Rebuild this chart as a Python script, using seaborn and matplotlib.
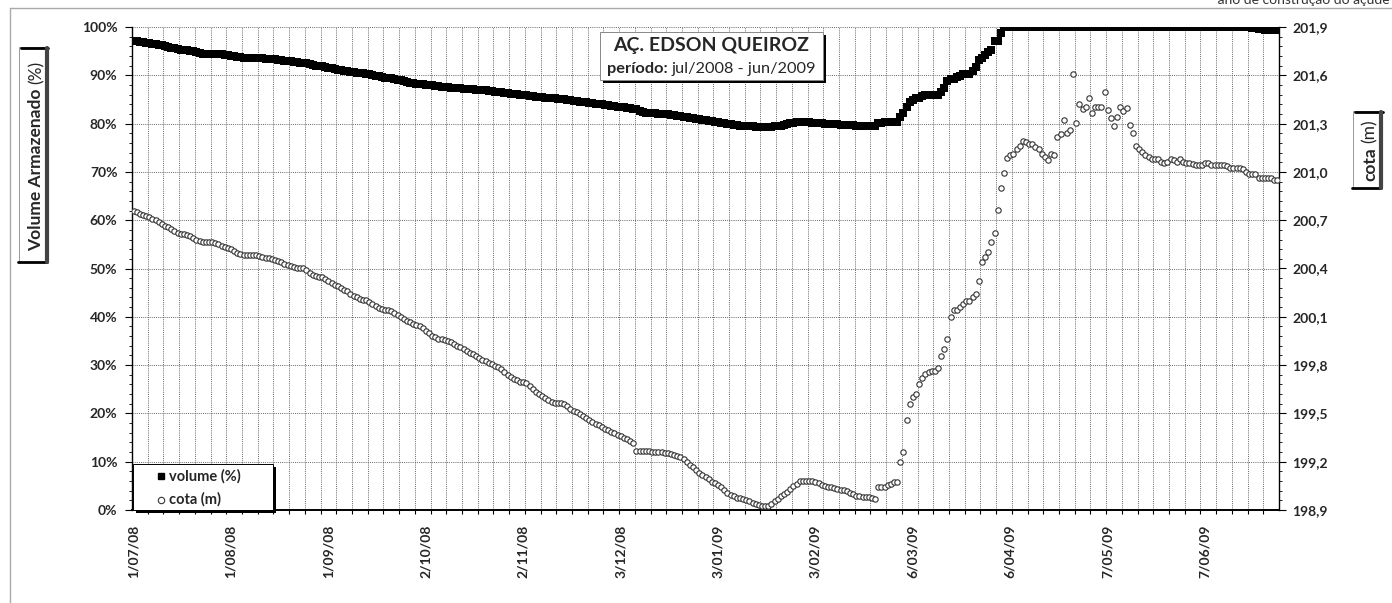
import numpy as np
import pandas as pd
import matplotlib
matplotlib.use("Agg")
import matplotlib.pyplot as plt
import seaborn as sns
from matplotlib.patches import Rectangle
from matplotlib.lines import Line2D
from matplotlib.ticker import MultipleLocator, FixedLocator, NullFormatter, FuncFormatter

# ---------------- data ----------------
period_start = "2008-07-01"
period_end = "2009-06-30"

tick_labels = ["1/07/08", "1/08/08", "1/09/08", "2/10/08", "2/11/08", "3/12/08",
               "3/01/09", "3/02/09", "6/03/09", "6/04/09", "7/05/09", "7/06/09"]

# volume armazenado (%), one value per day
volume_pct = [
    97.0, 97.0, 96.9, 96.8, 96.7, 96.6, 96.5, 96.4, 96.3, 96.2,
    96.0, 95.9, 95.7, 95.6, 95.4, 95.3, 95.2, 95.2, 95.1, 95.1,
    94.9, 94.7, 94.5, 94.5, 94.5, 94.4, 94.4, 94.4, 94.4, 94.3,
    94.2, 94.0, 93.9, 93.8, 93.7, 93.6, 93.6, 93.6, 93.5, 93.5,
    93.5, 93.5, 93.4, 93.4, 93.3, 93.3, 93.2, 93.1, 93.0, 92.9,
    92.9, 92.8, 92.7, 92.6, 92.5, 92.5, 92.4, 92.2, 92.0, 91.9,
    91.9, 91.8, 91.6, 91.5, 91.3, 91.2, 91.1, 90.9, 90.8, 90.7,
    90.6, 90.5, 90.5, 90.4, 90.3, 90.2, 90.1, 89.9, 89.8, 89.6,
    89.5, 89.5, 89.4, 89.3, 89.1, 89.0, 88.8, 88.7, 88.5, 88.4,
    88.2, 88.1, 88.1, 88.0, 88.0, 87.9, 87.8, 87.7, 87.6, 87.6,
    87.5, 87.4, 87.4, 87.3, 87.3, 87.2, 87.2, 87.1, 87.1, 87.0,
    87.0, 86.9, 86.9, 86.8, 86.7, 86.6, 86.6, 86.5, 86.4, 86.3,
    86.2, 86.2, 86.1, 86.0, 86.0, 85.9, 85.8, 85.7, 85.6, 85.5,
    85.5, 85.4, 85.3, 85.2, 85.2, 85.1, 85.0, 85.0, 84.9, 84.8,
    84.7, 84.6, 84.5, 84.5, 84.4, 84.3, 84.2, 84.1, 84.0, 84.0,
    83.9, 83.8, 83.7, 83.6, 83.5, 83.5, 83.4, 83.3, 83.2, 83.1,
    83.0, 82.6, 82.3, 82.2, 82.2, 82.1, 82.1, 82.0, 82.0, 81.9,
    81.9, 81.8, 81.7, 81.6, 81.5, 81.4, 81.3, 81.2, 81.1, 81.0,
    80.9, 80.8, 80.7, 80.6, 80.5, 80.4, 80.3, 80.2, 80.1, 80.0,
    79.9, 79.8, 79.7, 79.6, 79.5, 79.5, 79.4, 79.4, 79.3, 79.3,
    79.3, 79.2, 79.2, 79.3, 79.4, 79.5, 79.6, 79.8, 80.0, 80.1,
    80.2, 80.3, 80.3, 80.3, 80.3, 80.3, 80.2, 80.2, 80.1, 80.1,
    80.0, 80.0, 80.0, 79.9, 79.9, 79.8, 79.8, 79.7, 79.7, 79.7,
    79.6, 79.6, 79.6, 79.6, 79.6, 79.6, 79.6, 80.1, 80.2, 80.3,
    80.4, 80.4, 80.4, 80.4, 81.4, 82.1, 83.5, 84.5, 84.9, 85.2,
    85.2, 85.7, 85.9, 85.9, 85.9, 85.9, 85.9, 86.6, 87.3, 88.8,
    89.2, 89.3, 89.6, 89.9, 90.2, 90.2, 90.2, 90.8, 91.7, 93.2,
    93.6, 94.2, 94.9, 95.2, 97.0, 97.0, 98.7, 99.9, 100.0, 100.0,
    100.0, 100.0, 100.0, 100.0, 100.0, 100.0, 100.0, 100.0, 100.0, 100.0,
    100.0, 100.0, 100.0, 100.0, 100.0, 100.0, 100.0, 100.0, 100.0, 100.0,
    100.0, 100.0, 100.0, 100.0, 100.0, 100.0, 100.0, 100.0, 100.0, 100.0,
    100.0, 100.0, 100.0, 100.0, 100.0, 100.0, 100.0, 100.0, 100.0, 100.0,
    100.0, 100.0, 100.0, 100.0, 100.0, 100.0, 100.0, 100.0, 100.0, 100.0,
    100.0, 100.0, 100.0, 100.0, 100.0, 100.0, 100.0, 100.0, 100.0, 100.0,
    100.0, 100.0, 100.0, 100.0, 100.0, 100.0, 100.0, 100.0, 100.0, 100.0,
    100.0, 100.0, 100.0, 100.0, 100.0, 99.9, 99.8, 99.7, 99.6, 99.5,
    99.4, 99.4, 99.4, 99.4, 99.4,
]

# cota (m), one value per day
cota_m = [
    200.760, 200.748, 200.739, 200.733, 200.724, 200.718, 200.709, 200.700, 200.691, 200.679,
    200.667, 200.658, 200.646, 200.634, 200.622, 200.616, 200.613, 200.610, 200.604, 200.589,
    200.577, 200.568, 200.562, 200.562, 200.562, 200.562, 200.556, 200.550, 200.541, 200.532,
    200.526, 200.520, 200.508, 200.499, 200.490, 200.484, 200.481, 200.481, 200.481, 200.481,
    200.478, 200.472, 200.466, 200.463, 200.457, 200.451, 200.445, 200.439, 200.430, 200.424,
    200.418, 200.412, 200.406, 200.403, 200.400, 200.388, 200.373, 200.361, 200.355, 200.349,
    200.346, 200.334, 200.322, 200.310, 200.298, 200.289, 200.277, 200.268, 200.259, 200.244,
    200.232, 200.220, 200.208, 200.205, 200.205, 200.193, 200.181, 200.169, 200.157, 200.148,
    200.145, 200.142, 200.136, 200.124, 200.109, 200.097, 200.088, 200.076, 200.067, 200.058,
    200.049, 200.043, 200.028, 200.013, 199.998, 199.983, 199.974, 199.965, 199.962, 199.956,
    199.950, 199.941, 199.929, 199.920, 199.911, 199.899, 199.890, 199.878, 199.866, 199.857,
    199.845, 199.833, 199.824, 199.815, 199.806, 199.797, 199.791, 199.773, 199.755, 199.737,
    199.725, 199.716, 199.707, 199.698, 199.692, 199.686, 199.671, 199.653, 199.635, 199.623,
    199.608, 199.593, 199.581, 199.572, 199.566, 199.563, 199.563, 199.560, 199.545, 199.530,
    199.518, 199.506, 199.494, 199.482, 199.470, 199.458, 199.446, 199.437, 199.425, 199.416,
    199.404, 199.395, 199.386, 199.377, 199.368, 199.359, 199.350, 199.338, 199.329, 199.317,
    199.269, 199.266, 199.266, 199.266, 199.266, 199.263, 199.263, 199.260, 199.260, 199.257,
    199.251, 199.245, 199.239, 199.233, 199.227, 199.215, 199.200, 199.182, 199.164, 199.149,
    199.131, 199.119, 199.107, 199.092, 199.077, 199.065, 199.053, 199.041, 199.026, 199.008,
    198.993, 198.984, 198.975, 198.972, 198.966, 198.960, 198.954, 198.945, 198.936, 198.930,
    198.927, 198.924, 198.927, 198.936, 198.954, 198.969, 198.984, 198.999, 199.014, 199.029,
    199.047, 199.062, 199.080, 199.083, 199.083, 199.083, 199.083, 199.077, 199.065, 199.056,
    199.047, 199.044, 199.041, 199.038, 199.032, 199.026, 199.023, 199.017, 199.008, 198.999,
    198.990, 198.984, 198.981, 198.978, 198.978, 198.975, 198.969, 199.041, 199.041, 199.041,
    199.056, 199.062, 199.071, 199.071, 199.200, 199.260, 199.458, 199.557, 199.599, 199.620,
    199.680, 199.719, 199.743, 199.755, 199.764, 199.764, 199.779, 199.857, 199.899, 199.962,
    200.100, 200.142, 200.142, 200.163, 200.178, 200.199, 200.199, 200.220, 200.241, 200.322,
    200.442, 200.469, 200.502, 200.562, 200.622, 200.763, 200.901, 200.994, 201.084, 201.108,
    201.114, 201.141, 201.162, 201.195, 201.183, 201.174, 201.174, 201.156, 201.141, 201.114,
    201.093, 201.075, 201.114, 201.105, 201.216, 201.234, 201.321, 201.243, 201.261, 201.606,
    201.303, 201.423, 201.390, 201.405, 201.462, 201.363, 201.402, 201.405, 201.405, 201.495,
    201.384, 201.333, 201.282, 201.342, 201.402, 201.381, 201.396, 201.291, 201.243, 201.162,
    201.141, 201.126, 201.105, 201.090, 201.081, 201.081, 201.081, 201.063, 201.054, 201.063,
    201.081, 201.075, 201.060, 201.081, 201.063, 201.054, 201.054, 201.051, 201.045, 201.045,
    201.045, 201.054, 201.054, 201.045, 201.045, 201.045, 201.045, 201.045, 201.036, 201.027,
    201.027, 201.027, 201.027, 201.015, 201.000, 200.985, 200.985, 200.985, 200.964, 200.964,
    200.964, 200.964, 200.964, 200.949, 200.949,
]

title_line1 = "AÇ. EDSON QUEIROZ"
title_line2_bold = "período:"
title_line2_normal = "jul/2008 - jun/2009"
legend_labels = ["volume (%)", "cota (m)"]
ylabel_bold, ylabel_normal = "Volume Armazenado", "(%)"
y2label_bold, y2label_normal = "cota", "(m)"
corner_note = "- ano de construção do açude"

# ---------------- styling ----------------
sns.set_style("white")
plt.rcParams["font.family"] = ["Lato", "DejaVu Sans"]
plt.rcParams["font.weight"] = "bold"

dates = pd.date_range(period_start, period_end, freq="D")
day = np.arange(len(dates))
df = pd.DataFrame({"day": day, "volume": volume_pct[:len(day)], "cota": cota_m[:len(day)]})

W, H = 1392, 603
fig = plt.figure(figsize=(W / 100, H / 100), dpi=100)
fig.patch.set_facecolor("white")

L, R, T, B = 132, 1279, 27, 510
ax = fig.add_axes([L / W, 1 - B / H, (R - L) / W, (B - T) / H])
ax2 = ax.twinx()

sns.scatterplot(data=df, x="day", y="volume", marker="s", s=28, color="black",
                linewidth=0, ax=ax, legend=False, zorder=3)
sns.scatterplot(data=df, x="day", y="cota", marker="o", s=15, color="white",
                edgecolor="#333333", linewidth=0.8, ax=ax2, legend=False, zorder=3)

ax.set_xlim(-0.5, len(day) - 0.5)
ax.set_ylim(0, 100)
ax2.set_ylim(198.9, 201.9)
ax.set_xlabel(""); ax.set_ylabel(""); ax2.set_ylabel("")

# x axis: gridlines/ticks every 5 days, labels every 31 days
ax.xaxis.set_major_locator(FixedLocator(np.arange(4.5, len(day) - 0.5, 5)))
ax.xaxis.set_major_formatter(NullFormatter())
label_idx = [dates.get_loc(d) for d in pd.to_datetime(tick_labels, format="%d/%m/%y")]
ax.set_xticks(label_idx, minor=True)
ax.set_xticklabels(tick_labels, minor=True)
ax.tick_params(axis="x", which="major", bottom=True, direction="out", length=3, width=0.8, color="black")
ax.tick_params(axis="x", which="minor", bottom=True, length=0, pad=10.5, labelsize=10, labelrotation=90)

ax.yaxis.set_major_locator(MultipleLocator(10))
ax.yaxis.set_minor_locator(MultipleLocator(2))
ax.yaxis.set_major_formatter(FuncFormatter(lambda v, p: f"{v:.0f}%"))
ax.tick_params(axis="y", which="major", left=True, direction="out", length=5, width=0.8,
               pad=5.5, labelsize=10, color="black")
ax.tick_params(axis="y", which="minor", left=True, direction="out", length=2.5, width=0.6, color="black")

ax2.yaxis.set_major_locator(FixedLocator(np.round(np.arange(198.9, 201.95, 0.3), 1)))
ax2.yaxis.set_minor_locator(FixedLocator(np.round(np.arange(198.9, 201.92, 0.06), 2)))
ax2.yaxis.set_major_formatter(FuncFormatter(lambda v, p: f"{v:.1f}".replace(".", ",")))
ax2.tick_params(axis="y", which="major", right=True, direction="out", length=5, width=0.8,
                pad=4.5, labelsize=10, color="black")
ax2.tick_params(axis="y", which="minor", right=True, direction="out", length=2.5, width=0.6, color="black")

for s in ["top", "right"]:
    ax.spines[s].set_visible(False)
for s in ["top", "left", "bottom"]:
    ax2.spines[s].set_visible(False)
ax.spines["left"].set_color("black"); ax.spines["left"].set_linewidth(1.0)
ax.spines["bottom"].set_color("black"); ax.spines["bottom"].set_linewidth(1.4)
ax2.spines["right"].set_color("black"); ax2.spines["right"].set_linewidth(1.0)

ax.grid(True, which="major", axis="both", color="#666666", linestyle=(0, (1, 1.2)), linewidth=0.7)
ax.set_axisbelow(True)
ax2.grid(False)

# ---------------- figure decorations ----------------
def rect(x0, y0, x1, y1, **kw):
    fig.add_artist(Rectangle((x0 / W, 1 - y1 / H), (x1 - x0) / W, (y1 - y0) / H,
                             transform=fig.transFigure, **kw))

def line(xs, ys, **kw):
    fig.add_artist(Line2D([x / W for x in xs], [1 - y / H for y in ys],
                          transform=fig.transFigure, **kw))

renderer = fig.canvas.get_renderer()

def text_w(s, size, weight):
    t = fig.text(0, 0, s, fontsize=size, fontweight=weight)
    w = t.get_window_extent(renderer).width
    t.remove()
    return w

def mixed(parts, xc, ybase, size, rotation=0):
    widths = [text_w(s, size, w) for s, w in parts]
    gap = size * 100 / 72 * 0.26
    total = sum(widths) + gap * (len(parts) - 1)
    pos = 0.0
    for (s, w), wd in zip(parts, widths):
        if rotation == 0:
            fig.text((xc - total / 2 + pos) / W, 1 - ybase / H, s, fontsize=size, fontweight=w,
                     ha="left", va="baseline", zorder=7)
        else:
            fig.text(ybase / W, 1 - (xc + total / 2 - pos) / H, s, fontsize=size, fontweight=w,
                     ha="left", va="baseline", rotation=90, rotation_mode="anchor", zorder=7)
        pos += wd + gap

# outer frame
line([10, 10], [8, 603], color="#aaaaaa", lw=1.0)
line([10, 1392], [8, 8], color="#aaaaaa", lw=1.0)
fig.text(1390 / W, 1 - 4.5 / H, corner_note, ha="right", va="baseline", fontsize=10,
         fontweight="normal", color="#333333")

# title box
rect(603, 35, 826, 83, facecolor="black", edgecolor="none", zorder=5)
rect(600, 32, 823, 80, facecolor="white", edgecolor="#888888", lw=0.7, zorder=6)
mixed([(title_line1, "bold")], 711.5, 51.5, 14)
mixed([(title_line2_bold, "bold"), (title_line2_normal, "normal")], 711.5, 73.5, 11.8)

# legend box
rect(136, 467, 276, 513, facecolor="black", edgecolor="none", zorder=5)
rect(133, 464, 273, 510, facecolor="white", edgecolor="black", lw=0.7, zorder=6)
fig.add_artist(Line2D([161 / W], [1 - 476 / H], marker="s", markersize=4.5, color="black",
                      linestyle="none", transform=fig.transFigure, zorder=7))
fig.add_artist(Line2D([161 / W], [1 - 499.5 / H], marker="o", markersize=4.6, markerfacecolor="white",
                      markeredgecolor="#333333", markeredgewidth=0.8, linestyle="none",
                      transform=fig.transFigure, zorder=7))
fig.text(169 / W, 1 - 480.5 / H, legend_labels[0], fontsize=10.5, fontweight="bold", ha="left",
         va="baseline", zorder=7)
fig.text(169 / W, 1 - 504 / H, legend_labels[1], fontsize=10.5, fontweight="bold", ha="left",
         va="baseline", zorder=7)

# left axis title box
rect(19, 47, 46, 262, facecolor="white", edgecolor="#999999", lw=0.7, zorder=5)
line([21, 48], [48, 48], color="black", lw=2.0, zorder=6)
line([18, 47], [262, 262], color="black", lw=2.0, zorder=6)
line([47, 47], [48, 262], color="#444444", lw=3.0, zorder=6)
mixed([(ylabel_bold, "bold"), (ylabel_normal, "normal")], 156, 41.5, 12.5, rotation=90)

# right axis title box
rect(1353, 111, 1380, 188, facecolor="white", edgecolor="#999999", lw=0.7, zorder=5)
line([1355, 1383], [112, 112], color="black", lw=2.0, zorder=6)
line([1352, 1381], [188, 188], color="black", lw=2.0, zorder=6)
line([1381, 1381], [112, 188], color="#444444", lw=3.0, zorder=6)
mixed([(y2label_bold, "bold"), (y2label_normal, "normal")], 150, 1375, 12.5, rotation=90)

fig.savefig("out.png", dpi=100, facecolor="white")
